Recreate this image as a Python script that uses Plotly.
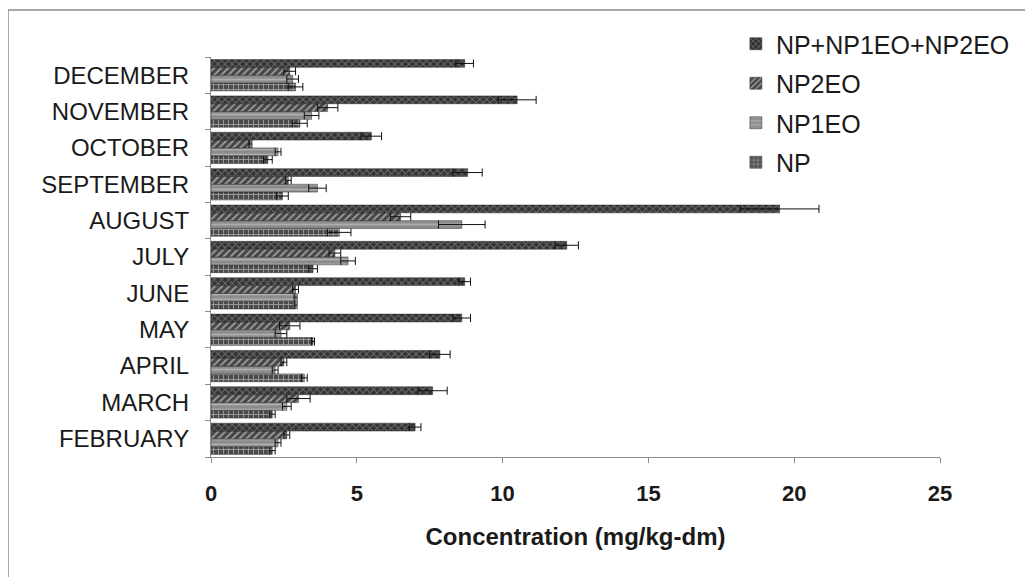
import plotly.graph_objects as go

months = ["FEBRUARY", "MARCH", "APRIL", "MAY", "JUNE", "JULY", "AUGUST",
          "SEPTEMBER", "OCTOBER", "NOVEMBER", "DECEMBER"]

np_vals = [2.1, 2.1, 3.2, 3.5, 2.9, 3.5, 4.4, 2.45, 1.95, 3.05, 2.9]
np_err = [0.1, 0.1, 0.1, 0.05, 0.05, 0.15, 0.4, 0.2, 0.15, 0.25, 0.25]
np1eo_vals = [2.3, 2.6, 2.2, 2.4, 2.9, 4.7, 8.6, 3.65, 2.3, 3.45, 2.8]
np1eo_err = [0.1, 0.15, 0.1, 0.2, 0.05, 0.25, 0.8, 0.3, 0.1, 0.25, 0.2]
np2eo_vals = [2.6, 3.0, 2.5, 2.7, 2.9, 4.25, 6.5, 2.65, 1.35, 4.0, 2.7]
np2eo_err = [0.1, 0.4, 0.1, 0.35, 0.1, 0.2, 0.35, 0.1, 0.05, 0.35, 0.2]
total_vals = [7.0, 7.6, 7.85, 8.6, 8.7, 12.2, 19.5, 8.8, 5.5, 10.5, 8.7]
total_err = [0.2, 0.5, 0.35, 0.3, 0.2, 0.4, 1.35, 0.5, 0.35, 0.65, 0.3]

x_ticks = [0, 5, 10, 15, 20, 25]

series = [
    ("NP", np_vals, np_err, "#4a4a4a", "+", "#e6e6e6", 4),
    ("NP1EO", np1eo_vals, np1eo_err, "#8c8c8c", "-", "#d0d0d0", 3),
    ("NP2EO", np2eo_vals, np2eo_err, "#464646", "/", "#f5f5f5", 2),
    ("NP+NP1EO+NP2EO", total_vals, total_err, "#333333", "x", "#a8a8a8", 1),
]

FONT = "Liberation Sans, Arial, sans-serif"

fig = go.Figure()
for name, vals, err, bg, shape, fg, rank in series:
    fig.add_trace(go.Bar(
        y=months, x=vals, name=name, orientation="h",
        legendgroup=name, legendrank=rank,
        marker=dict(color=bg, line=dict(color="#2a2a2a", width=0.5),
                    pattern=dict(shape=shape, fgcolor=fg, bgcolor=bg,
                                 size=5, solidity=0.35)),
        error_x=dict(type="data", array=err, visible=True,
                     color="#111111", thickness=1, width=4),
    ))

# page body has an 8px margin, so the figure is sized/offset to compensate
fig.update_layout(
    width=1025, height=569,
    barmode="group", bargap=0.14, bargroupgap=0.0,
    plot_bgcolor="white", paper_bgcolor="white",
    margin=dict(l=203, r=93, t=49, b=120),
    font=dict(family=FONT, color="#1a1a1a", size=24),
    legend=dict(x=0.72, y=1.09, xanchor="left", yanchor="top",
                traceorder="grouped", tracegroupgap=4,
                font=dict(size=25),
                itemwidth=30, bgcolor="rgba(0,0,0,0)"),
    showlegend=True,
)

fig.update_xaxes(
    range=[0, 25], tickvals=x_ticks, showgrid=False, zeroline=False,
    showline=True, linecolor="#8c8c8c", linewidth=1,
    ticks="outside", ticklen=5, tickcolor="#8c8c8c",
    ticklabelstandoff=12,
    tickfont=dict(size=22, family=FONT, weight="bold"),
    title=dict(text="<b>Concentration (mg/kg-dm)</b>", standoff=22,
               font=dict(size=24)),
)
fig.update_yaxes(
    categoryorder="array", categoryarray=months,
    showgrid=False, zeroline=False,
    showline=True, linecolor="#8c8c8c", linewidth=1,
    ticks="outside", ticklen=5, tickcolor="#8c8c8c", tickson="boundaries",
    ticklabelstandoff=16,
    tickfont=dict(size=24),
)

fig.add_shape(type="rect", xref="paper", yref="paper",
              x0=-0.2785, x1=1.1235, y0=-0.32, y1=1.1175,
              line=dict(color="#8a8a8a", width=1.5), fillcolor="rgba(0,0,0,0)",
              layer="below")

fig.write_html("out.html")
